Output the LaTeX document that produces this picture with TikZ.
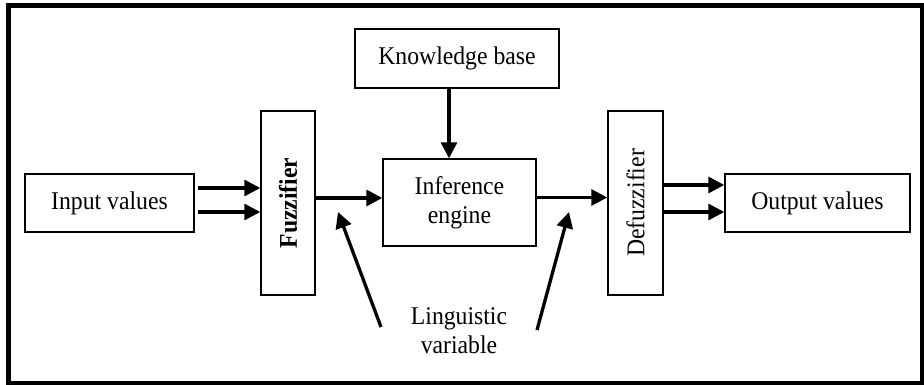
\documentclass[tikz,border=0pt]{standalone}
\usepackage{fontspec}
\setmainfont{Liberation Serif}[FakeStretch=0.93]
\usetikzlibrary{arrows.meta}
\begin{document}
\begin{tikzpicture}[x=1pt,y=-1pt,
  box/.style={draw=black, line width=1.4pt, inner sep=0pt, align=center,
    font=\fontsize{25.5}{29}\selectfont},
  arr/.style={line width=3.3pt, -{Triangle[length=16pt,width=16pt]}},
  lbl/.style={inner sep=0pt, align=center, font=\fontsize{25.5}{29}\selectfont}]
\useasboundingbox (0,0) rectangle (924,385);
\fill[white] (0,0) rectangle (924,385);
\draw[line width=4.5pt] (8.5,5.5) rectangle (922,383.5);
\node[box, minimum width=169pt, minimum height=58pt] (inp) at (109.5,203) {Input values};
\node[box, minimum width=204pt, minimum height=59pt] (kb) at (457,58.5) {Knowledge base};
\node[box, minimum width=54pt, minimum height=184pt] (fuzz) at (288,203) {\rotatebox{90}{\textbf{Fuzzifier}}};
\node[box, minimum width=153pt, minimum height=87pt] (inf) at (459.5,202.5) {Inference\\engine};
\node[box, minimum width=55pt, minimum height=184pt] (defuzz) at (635.5,203) {\rotatebox{90}{Defuzzifier}};
\node[box, minimum width=185pt, minimum height=58pt] (out) at (817.5,203) {Output values};
\node[lbl] (ling) at (459,331) {Linguistic\\variable};
\coordinate (l1) at (381,327);
\coordinate (l2) at (338,212);
\coordinate (r1) at (537,330);
\coordinate (r2) at (569,212);
\draw[arr] ([xshift=3pt,yshift=15pt]inp.east) -- ([yshift=15pt]fuzz.west);
\draw[arr] ([xshift=3pt,yshift=-9pt]inp.east) -- ([yshift=-9pt]fuzz.west);
\draw[arr] ([yshift=5pt]fuzz.east) -- ([yshift=5pt]fuzz.east -| inf.west);
\draw[arr] ([yshift=5pt]inf.east) -- ([yshift=5pt]inf.east -| defuzz.west);
\draw[arr] ([xshift=-8pt]kb.south) -- ([xshift=-8pt]kb.south |- inf.north);
\draw[arr] ([yshift=18pt]defuzz.east) -- ([yshift=18pt]defuzz.east -| out.west);
\draw[arr] ([yshift=-9pt]defuzz.east) -- ([yshift=-9pt]defuzz.east -| out.west);
\draw[arr] (l1) -- (l2);
\draw[arr] (r1) -- (r2);
\end{tikzpicture}
\end{document}
